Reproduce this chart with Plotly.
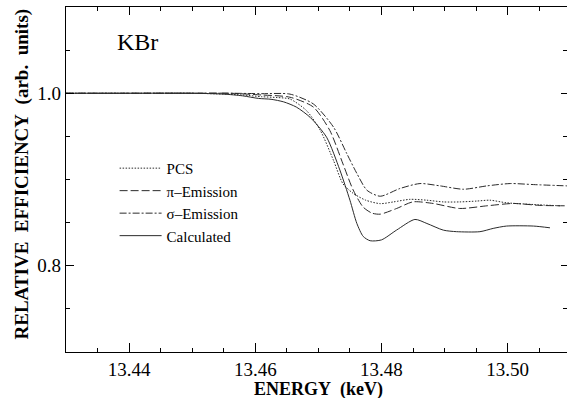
import plotly.graph_objects as go

# ---- data ----
pcs_e = [13.430, 13.440, 13.450, 13.455, 13.458, 13.461, 13.4635, 13.4655, 13.4681, 13.4703,
         13.4724, 13.4739, 13.4755, 13.4775, 13.4798, 13.4819, 13.4845, 13.4872, 13.4898,
         13.4924, 13.4951, 13.4972, 13.4998, 13.5041, 13.5083]
pcs_v = [1.000, 1.000, 1.000, 0.999, 0.998, 0.996, 0.995, 0.9933, 0.980, 0.957,
         0.922, 0.895, 0.884, 0.876, 0.872, 0.874, 0.877, 0.876, 0.874,
         0.874, 0.875, 0.876, 0.873, 0.871, 0.8695]

pi_e = [13.430, 13.440, 13.450, 13.456, 13.461, 13.4655, 13.4692, 13.4718, 13.4739, 13.4755,
        13.4771, 13.4785, 13.4798, 13.4824, 13.4850, 13.4882, 13.4924, 13.4967, 13.5009,
        13.5051, 13.5094]
pi_v = [1.000, 1.000, 1.000, 1.000, 0.998, 0.9954, 0.984, 0.957, 0.918, 0.888,
        0.868, 0.861, 0.8598, 0.8664, 0.8741, 0.8722, 0.8664, 0.8695, 0.8722,
        0.870, 0.8695]

sigma_e = [13.430, 13.440, 13.450, 13.456, 13.461, 13.4655, 13.4692, 13.4724, 13.4745, 13.4761,
           13.4777, 13.4798, 13.4829, 13.4861, 13.4893, 13.4930, 13.4967, 13.5004, 13.5041,
           13.5094]
sigma_v = [1.000, 1.000, 1.000, 1.000, 0.9995, 0.999, 0.9876, 0.9607, 0.930, 0.907,
           0.8875, 0.8806, 0.8895, 0.8953, 0.8926, 0.8887, 0.8926, 0.8953, 0.8941,
           0.8926]

calc_e = [13.430, 13.440, 13.450, 13.455, 13.458, 13.4605, 13.4625, 13.4645, 13.4665, 13.4687,
          13.4713, 13.4734, 13.4750, 13.4761, 13.4771, 13.4782, 13.4800, 13.4824, 13.4853,
          13.4872, 13.4898, 13.4919, 13.4956, 13.4977, 13.4998, 13.5041, 13.5067]
calc_v = [1.000, 1.000, 1.000, 0.999, 0.997, 0.994, 0.993, 0.990, 0.984, 0.972,
          0.949, 0.911, 0.876, 0.849, 0.834, 0.829, 0.830, 0.8414, 0.8537,
          0.849, 0.8413, 0.8395, 0.8395, 0.8433, 0.846, 0.846, 0.844]

series_names = ["PCS", "\u03c0\u2013Emission", "\u03c3\u2013Emission", "Calculated"]
x_range = [13.430, 13.5094]
y_range = [0.70, 1.10]

FONT = "Liberation Serif, Times New Roman, serif"
LC = "#2a2a2a"

fig = go.Figure()
styles = [
    (pcs_e, pcs_v, "1.5px,1.5px"),
    (pi_e, pi_v, "8px,3px"),
    (sigma_e, sigma_v, "7px,2px,2px,2px"),
    (calc_e, calc_v, "solid"),
]
for (xe, yv, dash), name in zip(styles, series_names):
    fig.add_trace(go.Scatter(
        x=xe, y=yv, mode="lines", name=name,
        line=dict(color=LC, width=1.0, dash=dash, shape="spline", smoothing=0.7),
    ))

common_x = dict(range=x_range, showgrid=False, zeroline=False)
common_y = dict(range=y_range, showgrid=False, zeroline=False)

fig.update_layout(
    width=567, height=398,
    margin=dict(l=66, r=0, t=7, b=46),
    paper_bgcolor="white", plot_bgcolor="white",
    font=dict(family=FONT, color="black", size=19),
    xaxis=dict(**common_x, showline=True, linecolor="black", linewidth=1.2,
               ticks="inside", ticklen=9, tickwidth=1.2, tickcolor="black",
               dtick=0.02, tick0=13.44, tickformat=".2f",
               minor=dict(dtick=0.005, ticklen=4, tickwidth=1, tickcolor="black", ticks="inside"),
               tickfont=dict(size=19)),
    xaxis2=dict(**common_x, overlaying="x", side="top", matches="x", showline=True,
                linecolor="black", linewidth=1.2, ticks="inside", ticklen=8, tickwidth=1.2,
                tickcolor="black", dtick=0.02, tick0=13.44, showticklabels=False,
                minor=dict(dtick=0.005, ticklen=4, tickwidth=1, tickcolor="black", ticks="inside")),
    yaxis=dict(**common_y, showline=True, linecolor="black", linewidth=1.2,
               ticks="inside", ticklen=8, tickwidth=1.2, tickcolor="black",
               dtick=0.2, tick0=0.0, tickformat=".1f",
               minor=dict(dtick=0.05, ticklen=4, tickwidth=1, tickcolor="black", ticks="inside"),
               tickfont=dict(size=19)),
    yaxis2=dict(**common_y, overlaying="y", side="right", matches="y", showline=False,
                ticks="inside", ticklen=6, tickwidth=1.2, tickcolor="black",
                dtick=0.2, tick0=0.0, showticklabels=False,
                minor=dict(dtick=0.05, ticklen=4, tickwidth=1, tickcolor="black", ticks="inside")),
    showlegend=True,
    legend=dict(x=0.097, y=0.58, xanchor="left", yanchor="top",
                bgcolor="rgba(0,0,0,0)", borderwidth=0,
                font=dict(family=FONT, size=15, color="black"),
                tracegroupgap=0, itemwidth=42),
    annotations=[
        dict(text="KBr", xref="paper", yref="paper", x=0.1427, y=0.899,
             xanchor="center", yanchor="middle", showarrow=False,
             font=dict(family=FONT, size=24, color="black")),
        dict(text="<b>ENERGY\u00a0\u00a0(keV)</b>", xref="paper", yref="paper",
             x=0.503, y=-0.108, xanchor="center", yanchor="middle", showarrow=False,
             font=dict(family=FONT, size=18, color="black")),
        dict(text="<b>RELATIVE\u00a0\u00a0EFFICIENCY\u00a0\u00a0(arb.\u00a0\u00a0units)</b>",
             xref="paper", yref="paper", x=-0.0878, y=0.5145, textangle=-90,
             xanchor="center", yanchor="middle", showarrow=False,
             font=dict(family=FONT, size=19, color="black")),
    ],
)

# invisible trace so the overlay axes are drawn
fig.add_trace(go.Scatter(x=[x_range[0]], y=[y_range[0]], xaxis="x2", yaxis="y2",
                         mode="markers", marker=dict(opacity=0), showlegend=False,
                         hoverinfo="skip"))

fig.write_html("out.html")
